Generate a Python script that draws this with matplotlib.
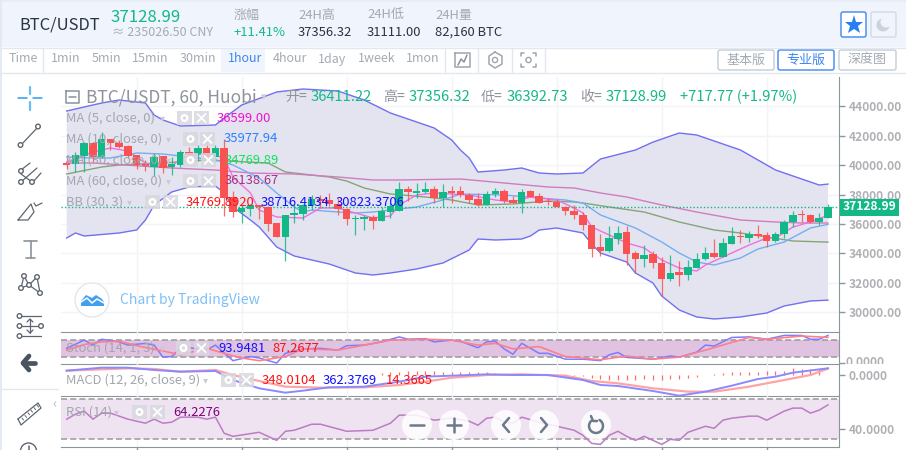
import numpy as np
import matplotlib
matplotlib.use('Agg')
import matplotlib.pyplot as plt
from matplotlib.patches import Rectangle, Circle, FancyBboxPatch
from matplotlib.transforms import Bbox

plt.rcParams['font.family'] = ['Noto Sans CJK SC', 'DejaVu Sans']

# candles: open, high, low, close
opens = [40170,40080,40620,41510,40560,41780,41510,41300,40690,40080,39880,40620,39880,40010,40900,40760,41170,40560,41170,37840,
         36820,37020,37290,37160,36070,35120,36610,36680,37290,37700,37630,37360,37020,36340,36340,36480,36200,36820,36880,38380,
         38110,38180,38380,37770,38240,38240,37970,37700,37290,38040,38240,37630,37430,38240,37900,37560,37500,37160,36880,36610,
         35930,34440,34160,34980,35460,34030,33620,33960,33350,32260,32740,32530,33010,33620,34030,33760,34640,35180,35050,35320,
         35250,34840,35320,36140,36680,36610,36140,36411]
highs = [40490,40900,41580,41510,42260,41780,41710,41370,40690,40350,40830,40620,40560,41030,41240,41370,41580,41370,41780,38240,
         37290,37360,37290,37220,36070,36610,37360,37360,37970,37970,38110,37770,37090,36610,36610,36610,37160,37430,38860,38580,
         38790,38860,38580,38720,38580,38580,38110,38110,38240,38450,38380,37900,38380,38310,38110,37770,37700,37220,37290,36820,
         35930,35320,35860,35860,35860,34160,34570,34160,33760,33890,33480,33550,34030,34440,34980,35050,35800,35590,35520,35930,
         35460,35460,36270,36880,36950,36680,36750,37356]
lows = [39740,39540,39540,40220,40490,41030,41170,40490,39740,39600,39260,39470,39330,39880,40490,40280,40280,40220,36540,36480,
        36070,36540,36340,35520,35120,33480,36070,36270,36950,37090,37220,36610,35930,35250,35590,35660,36200,36410,36880,37560,
        37770,38110,37430,37160,37430,37840,37430,37220,37290,37840,37430,37430,36750,37840,37430,37290,37160,36610,36340,35590,
        33760,33820,34100,34640,33210,32670,33080,33010,31110,32120,31780,32190,33010,33550,33690,33760,34640,34710,34780,35050,
        34440,34780,35050,35800,36140,36070,35930,36393]
closes = [40030,40690,41510,40560,41780,41510,41240,40620,40010,39940,40560,39810,40080,40900,40690,41170,40560,41170,37770,36820,
          37090,37290,37160,36000,35120,36610,36750,37290,37700,37560,37360,37020,36340,36410,36480,36200,36880,37220,38380,38180,
          38240,38380,37770,38180,38110,37970,37630,37290,38040,38240,37560,37430,38180,37840,37430,37500,37160,36880,36610,35930,
          34300,34160,35050,35390,33960,33620,33890,33350,32260,32670,32530,33080,33620,34030,33760,34710,35180,35120,35320,35180,
          34840,35320,36140,36610,36610,36140,36410,37129]

# bollinger bands
bb_up_x = [0,2,4,6,9,10,11,13,17,18,20,24,27,31,34,37,42,44,45,46,47,50,52,54,56,59,61,65,67,70,72,77,81,85,86,87]
bb_up = [43684,43956,44228,44432,44228,43412,43072,42664,42732,43208,44092,44976,45180,45044,44432,43548,42528,41712,41032,40488,
         39536,39672,39808,39468,39400,39468,40420,41032,41570,42188,42052,41032,39672,38856,38650,38716]
bb_lo_x = [0,1,2,6,8,9,10,12,14,17,18,19,21,22,24,26,30,33,35,37,40,43,46,47,49,52,53,54,56,59,60,61,64,65,67,68,70,72,74,77,80,82,85,87]
bb_lo = [35048,35388,35184,35388,35592,36272,37292,38176,38516,38584,38108,37156,36272,35796,34436,33824,33280,32668,32532,32668,
         32940,33348,34232,34980,34912,34980,35184,35592,35728,35388,34640,34028,33416,32668,31988,31104,30152,29676,29540,29676,
         29948,30424,30764,30823]

# moving averages
ma60_x = [0,4,6,11,16,23,25,30,32,34,37,41,44,47,51,55,58,59,62,66,70,74,77,80,83,87]
ma60 = [39400,39876,40012,40148,40352,40148,39536,39196,38924,38448,38040,37836,37632,37292,37360,37564,37496,37428,37156,36816,
        36136,35592,35388,35116,34844,34770]
ma30_x = [0,3,12,17,21,26,31,35,38,45,50,55,58,61,64,68,72,77,81,84,87]
ma30 = [40148,40148,39808,39672,39468,39400,39196,38992,38992,39060,38788,38516,38448,38108,37836,37292,36816,36272,36136,36068,36068]
ma10_x = [0,3,5,8,11,14,17,19,22,24,26,27,28,31,33,35,38,40,43,45,50,54,57,59,61,65,68,70,72,74,77,79,82,85,87]
ma10 = [40556,40488,40488,40828,40760,40556,40352,40012,39128,38108,37156,36816,36952,36816,36748,36816,37020,37156,37632,38040,
        37972,37768,37632,37428,36612,35728,34776,34028,33416,33212,33688,34300,34776,35728,35978]
ma5_x = [0,3,5,7,9,12,13,16,18,19,21,22,24,27,29,31,33,35,37,38,40,42,46,49,51,53,56,58,59,60,62,64,66,68,70,72,73,75,78,80,81,83,85,87]
ma5 = [40216,40896,41168,40964,40148,39876,40488,40828,40488,39196,38108,36952,36476,36408,37088,37088,36748,36408,36544,37292,
       37972,38108,37972,37632,37496,37836,37632,37088,36748,35796,35252,34708,34368,33552,33008,32804,33212,33756,34572,35048,
       35048,35796,36136,36599]

# stochastic
stoch_k_x = [0,2,3,4,6,7,9,10,11,12,13,14,16,17,19,21,22,24,25,27,29,31,32,34,36,38,39,41,42,44,45,47,48,49,50,51,52,54,55,57,59,61,62,63,64,67,69,70,72,73,74,76,78,80,82,84,85,86,87]
stoch_k = [50,78,61,81,72,61,67,61,20,22,50,52,44,61,8,22,17,0,33,48,50,44,59,61,72,89,81,83,72,78,74,52,72,74,48,30,67,33,33,13,13,8,28,36,19,13,24,20,37,61,58,87,89,81,94,94,81,81,93.9]
stoch_d_x = [0,2,4,6,8,11,13,16,18,20,22,25,27,31,34,37,41,44,47,49,51,54,57,61,64,67,70,73,76,78,80,84,87]
stoch_d = [44,63,72,74,59,41,28,50,33,17,8,22,48,44,61,78,81,78,61,67,48,56,22,11,24,13,20,44,70,87,81,92,87.3]

# macd
macd_x = [0,4,7,10,13,17,19,22,25,27,30,34,38,41,44,48,51,55,59,61,63,67,70,73,76,79,81,83,87]
macd = [234,396,396,270,180,216,-270,-720,-954,-846,-666,-630,-360,-90,-36,36,0,0,-270,-540,-594,-864,-1116,-900,-576,-216,-90,126,362]
signal_x = [0,4,7,10,13,17,19,22,25,29,34,38,41,44,48,52,57,60,63,67,71,74,78,82,85,87]
signal = [234,306,360,324,180,270,0,-324,-630,-684,-666,-540,-360,-144,0,36,-36,-324,-450,-720,-900,-900,-630,-270,0,348]
hist_x = list(range(36, 88))
hist = [120,150,180,200,220,220,200,180,180,180,160,160,150,100,60,30,60,30,10,5,5,-40,-60,-80,-140,-200,-280,-280,-260,-250,-240,-260,
        -260,-240,-220,-170,-100,0,30,100,140,170,180,180,190,230,220,360,340,300,320,14]

# rsi
rsi_x = [0,1,2,3,4,5,7,9,10,11,12,13,15,16,17,18,19,22,24,25,26,28,29,32,35,37,38,40,42,44,46,47,48,49,50,51,52,54,57,58,59,60,61,62,63,64,65,66,67,68,69,70,71,73,74,75,76,78,79,80,82,83,84,85,86,87]
rsi = [50,55,58,50,56,56,50,46,50,46,47,52,52,50,52,36,33,37,29,38,39,45,45,38,39,46,54,54,49,51,48,44,51,52,47,46,52,47,41,39,34,26,25,34,38,33,29,33,29,25,30,29,37,43,41,49,51,53,53,49,58,61,61,56,59,64.2]

price_ticks = [30000,32000,34000,36000,38000,40000,42000,44000]
time_ticks = [8,20,32,44,56,68,80]
periods = ['1min','5min','15min','30min','1hour','4hour','1day','1week','1mon']
period_x = [51,92,132,180,228,273,318,358,406]

UP = '#12b886'
DOWN = '#fa5252'
GREY = '#a4aab4'
LABEL = '#a2a7ae'
AXIS = '#8c949c'
PX = 0.72

fig = plt.figure(figsize=(9.06, 4.5), dpi=100, facecolor='white')

def pane(top, bottom, ylim, z=2):
    ax = fig.add_axes([61/906, 1-bottom/450, 778/906, (bottom-top)/450], zorder=z)
    ax.set_facecolor('none')
    ax.set_xlim(-0.65, 88.26)
    ax.set_ylim(*ylim)
    for s in ['left', 'top']:
        ax.spines[s].set_visible(False)
    for s in ['right', 'bottom']:
        ax.spines[s].set_color(AXIS)
    ax.yaxis.tick_right()
    ax.tick_params(axis='y', colors='#aeb0b4', labelsize=12*PX, length=4, width=1, color=AXIS, pad=3)
    ax.tick_params(axis='x', length=0, labelbottom=False)
    ax.set_xticks(time_ticks)
    ax.grid(axis='x', color='#f3f4f7', lw=1)
    ax.set_axisbelow(True)
    return ax

# main pane
ax = pane(77, 332, (28656, 45996))
ax.set_yticks(price_ticks)
ax.set_yticklabels(['%.2f' % p for p in price_ticks], fontweight='bold')
ax.grid(axis='y', color='#f3f4f7', lw=1)
ax.fill(np.r_[bb_up_x, bb_lo_x[::-1]], np.r_[bb_up, bb_lo[::-1]], color='#e4e4f0', lw=0, zorder=1)
ax.plot(bb_up_x, bb_up, color='#7070f0', lw=1, zorder=2)
ax.plot(bb_lo_x, bb_lo, color='#7070f0', lw=1, zorder=2)
ax.plot(ma60_x, ma60, color='#86a478', lw=1, zorder=2)
ax.plot(ma30_x, ma30, color='#d07cc0', lw=1, zorder=2)
ax.plot(ma10_x, ma10, color='#74aef2', lw=1, zorder=2)
ax.plot(ma5_x, ma5, color='#f070e0', lw=1, zorder=3)
idx = np.arange(len(opens))
cols = [UP if c >= o else DOWN for o, c in zip(opens, closes)]
ax.vlines(idx, lows, highs, colors=cols, lw=0.9, alpha=0.85, zorder=4)
ax.bar(idx, np.abs(np.array(closes)-np.array(opens)), bottom=np.minimum(opens, closes), width=0.86, color=cols, lw=0, zorder=5)
ax.axhline(closes[-1], color=UP, ls=(0, (1, 1.5)), lw=1, zorder=3)

# stoch pane
ax2 = pane(332, 364, (-3.4, 105.7))
ax2.axhspan(20, 80, color='#e0c3e0', lw=0, zorder=1)
ax2.axhline(80, color='#9a9a9a', ls=(0, (4, 2)), lw=1.1, zorder=2)
ax2.axhline(20, color='#9a9a9a', ls=(0, (4, 2)), lw=1.1, zorder=2)
ax2.plot(stoch_k_x, stoch_k, color='#7c7cff', lw=1.1, zorder=3)
ax2.plot(stoch_d_x, stoch_d, color='#ff7f8c', lw=1.2, zorder=3)
ax2.set_yticks([0])
ax2.set_yticklabels([''])

# macd pane
ax3 = pane(364, 396, (-1134, 594))
ax3.vlines(hist_x, 0, hist, color='#ff6a6a', lw=0.9, zorder=2)
ax3.plot(signal_x, signal, color='#ffa4a4', lw=1.6, zorder=3)
ax3.plot(macd_x, macd, color='#8a8aff', lw=1.4, zorder=3)
ax3.set_yticks([0])
ax3.set_yticklabels(['0.0000'], fontweight='bold')

# rsi pane
ax4 = pane(396, 447, (22.4, 73))
ax4.axhspan(30, 70, color='#efe3f2', lw=0, zorder=1)
ax4.axhline(70, color='#9a9a9a', ls=(0, (4, 2)), lw=1.1, zorder=2)
ax4.axhline(30, color='#9a9a9a', ls=(0, (4, 2)), lw=1.1, zorder=2)
ax4.plot(rsi_x, rsi, color='#bc7cc4', lw=1.1, zorder=3)
ax4.set_yticks([40])
ax4.set_yticklabels(['40.0000'], fontweight='bold')
ax4.tick_params(axis='x', length=3, color=AXIS, width=1)

# page furniture, drawn in pixels on top of the panes
ui = fig.add_axes([0, 0, 1, 1], zorder=10)
ui.set_xlim(0, 906)
ui.set_ylim(450, 0)
ui.axis('off')
ui.patch.set_alpha(0)

def T(x, y, s, color=GREY, px=13, ha='left', weight='normal', z=6):
    return ui.text(x, y, s, color=color, fontsize=px*PX, ha=ha, va='center', fontweight=weight, zorder=z)

def R(x0, y0, x1, y1, fc, ec='none', lw=0, z=1, alpha=1):
    ui.add_patch(Rectangle((x0, y0), x1-x0, y1-y0, fc=fc, ec=ec, lw=lw, zorder=z, alpha=alpha))

def L(xs, ys, color='#5d6670', lw=1.1, z=4):
    ui.plot(xs, ys, color=color, lw=lw, zorder=z, solid_capstyle='round')

def O(x, y, r=2.3, color='#5d6670', z=5):
    ui.add_patch(Circle((x, y), r, fc='white', ec=color, lw=1, zorder=z))

R(0, 0, 906, 2, '#e8edf5')
R(0, 0, 2, 450, '#e4eaf4')
R(2, 2, 906, 47, '#f0f4fc')
R(2, 47, 906, 72, 'white')
L([2, 906], [47.5, 47.5], '#e3e8f0', 1)
L([2, 906], [72.5, 72.5], '#e3e8f0', 1)
R(221, 48, 265, 72, '#f0f4fc')
for vx in [43, 445, 478, 512, 545]:
    L([vx, vx], [48, 72], '#e3e8f0', 1)

T(19, 25, 'BTC/USDT', '#2a3340', 16.5)
T(111, 17, '37128.99', '#14b98a', 16.8)
T(112, 32, '≈ 235026.50 CNY', GREY, 12.5)
T(234, 15, '涨幅', GREY, 13)
T(234, 32, '+11.41%', '#14b98a', 13)
T(298, 15, '24H高', GREY, 13)
T(298, 32, '37356.32', '#2a3340', 13)
T(367, 15, '24H低', GREY, 13)
T(367, 32, '31111.00', '#2a3340', 13)
T(435, 15, '24H量', GREY, 13)
T(435, 32, '82,160 BTC', '#2a3340', 13)
T(9, 59, 'Time', GREY, 12.5)
for p, px_ in zip(periods, period_x):
    T(px_, 59, p, '#3f86f0' if p == '1hour' else GREY, 12.5)

def btn(x0, y0, x1, y1, ec, r=2):
    ui.add_patch(FancyBboxPatch((x0+r, y0+r), x1-x0-2*r, y1-y0-2*r, boxstyle='round,pad=%d' % r, fc='white', ec=ec, lw=1, zorder=3))

btn(718, 50, 774, 70, '#c4ccd6')
btn(778, 50, 834, 70, '#3f86f0')
btn(839, 50, 896, 70, '#c4ccd6')
T(746, 60, '基本版', GREY, 13, 'center')
T(806, 60, '专业版', '#3f86f0', 13, 'center')
T(867, 60, '深度图', GREY, 13, 'center')
btn(841, 12, 866, 37, '#3f86f0')
ui.plot([854], [25], marker='*', ms=14, color='#2a7ff0', mew=0, zorder=5)
ui.add_patch(FancyBboxPatch((873, 14), 21, 21, boxstyle='round,pad=2', fc='#f0f4fc', ec='#d4dae2', lw=1, zorder=3))
ui.add_patch(Circle((883, 25), 6.5, fc='#ccd2dc', ec='none', zorder=4))
ui.add_patch(Circle((886, 22), 5.5, fc='#f0f4fc', ec='none', zorder=5))

# toolbar icons
L([455, 470, 470, 455, 455], [53, 53, 67, 67, 53], '#a0a6ae')
L([458, 461, 464, 467], [65, 59, 62, 55], '#8a929c', 1.1)
L([495, 502, 502, 495, 489, 489, 495], [52, 56, 64, 68, 64, 56, 52], '#a0a6ae')
O(495, 60, 2.6, '#a0a6ae')
for cx, cy, sx, sy in [(521, 53, 1, 1), (536, 53, -1, 1), (521, 67, 1, -1), (536, 67, -1, -1)]:
    L([cx+3*sx, cx, cx], [cy, cy, cy+3*sy], '#a0a6ae')
O(528.5, 60, 2.6, '#a0a6ae')

# left drawing tools
L([30, 30], [87, 94], '#66bdf5', 1.6)
L([30, 30], [102, 110], '#66bdf5', 1.6)
L([18, 27], [98, 98], '#2a9df4', 1.1)
L([33, 42], [98, 98], '#2a9df4', 1.1)
L([21, 38], [145, 127], lw=0.9)
O(20.5, 145)
O(38, 126.5)
L([21, 30], [170, 163], lw=0.9); L([21, 37], [182, 168], lw=0.9); L([33, 41], [182, 173], lw=0.9); L([21, 32], [174, 182], lw=0.9)
O(21, 171); O(21, 182); O(32, 182)
L([18, 28, 34, 31, 18], [220, 220, 212, 204, 220], lw=0.9)
L([34, 36, 42], [203, 206, 203], lw=0.9)
L([24, 37], [241, 241], '#8a929c', 1.2); L([30.5, 30.5], [241, 258], '#8a929c', 1.2); L([26, 35], [258, 258], '#8a929c', 1.2)
L([21, 24, 29, 37, 40, 29, 21], [288, 276, 285, 277, 293, 285, 288], lw=0.9)
O(21, 288); O(24, 276); O(29, 285); O(37, 277); O(40, 293)
for fy in [316, 326, 336]:
    L([19, 41], [fy, fy], lw=0.9)
    O(19.5, fy)
O(41, 326)
L([30, 30], [319, 333], lw=0.9); L([27, 30, 33], [330, 333, 330], lw=0.9); L([27, 30, 33], [322, 319, 322], lw=0.9)
L([23, 35], [363, 363], '#4a5460', 3.4)
L([29, 23, 29], [356, 363, 370], '#4a5460', 3.4)
L([2, 58], [388.5, 388.5], '#e3e8f0', 1)
L([18, 38, 41, 21, 18], [419, 403, 408, 425, 419], lw=0.9)
for k in range(6):
    L([22+3*k, 23.5+3*k], [418-2.6*k, 420-2.6*k], '#5d6670', 0.7)
T(54, 403, '‹', '#a8c0d8', 14, 'center')
ui.add_patch(Circle((28.5, 451), 8, fc='white', ec='#5d6670', lw=1, zorder=4))
L([28.5, 28.5], [446, 450])

# pane legends
L([66, 79, 79, 66, 66], [91, 91, 103, 103, 91], '#8a929c')
L([69, 76], [97, 97], '#8a929c')
T(86, 97, 'BTC/USDT, 60, Huobi', '#8e949c', 17.4, weight='medium')
T(261, 97, '▾', '#c8ccd2', 11)
T(285, 97, '开=', '#8e949c', 14)
T(311, 97, '36411.22', '#14b98a', 14.7)
T(383, 97, '高=', '#8e949c', 14)
T(409, 97, '37356.32', '#14b98a', 14.7)
T(481, 97, '低=', '#8e949c', 14)
T(507, 97, '36392.73', '#14b98a', 14.7)
T(580, 97, '收=', '#8e949c', 14)
T(606, 97, '37128.99', '#14b98a', 14.7)
T(680, 97, '+717.77 (+1.97%)', '#14b98a', 14.7)

def row(y, label, gear_x, x_x, arrow_x, vals):
    T(66, y, label, LABEL, 13)
    T(arrow_x, y, '▾', '#c8ccd2', 10)
    R(gear_x, y-7, gear_x+15, y+7, '#d8d8de', z=5, alpha=0.85)
    R(x_x, y-7, x_x+15, y+7, '#d8d8de', z=5, alpha=0.85)
    ui.add_patch(Circle((gear_x+7.5, y), 4, fc='white', ec='none', zorder=6))
    ui.add_patch(Circle((gear_x+7.5, y), 1.6, fc='#d8d8de', ec='none', zorder=7))
    L([x_x+3.5, x_x+11.5], [y-4, y+4], 'white', 1.3, 6)
    L([x_x+3.5, x_x+11.5], [y+4, y-4], 'white', 1.3, 6)
    for vx, vs, vc in vals:
        T(vx, y, vs, vc, 13, z=7)

row(118, 'MA (5, close, 0)', 177, 194, 160, [(217, '36599.00', '#f010d0')])
row(139, 'MA (10, close, 0)', 183, 200, 166, [(224, '35977.94', '#2a80ff')])
row(160, 'MA (30, close, 0)', 183, 201, 166, [(225, '34769.89', '#10e060')])
row(181, 'MA (60, close, 0)', 183, 201, 166, [(225, '36138.67', '#a83088')])
row(202, 'BB (30, 3)', 145, 163, 127, [(186, '34769.8920', '#ff1010'), (261, '38716.4134', '#1010ff'), (336, '30823.3706', '#1010ff')])
row(348, 'Stoch (14, 1, 3)', 176, 194, 160, [(218, '93.9481', '#1010ff'), (272, '87.2677', '#ff1010')])
row(380, 'MACD (12, 26, close, 9)', 221, 239, 203, [(262, '348.0104', '#ff1010'), (323, '362.3769', '#1010ff'), (386, '14.3665', '#ff1010')])
row(412, 'RSI (14)', 132, 150, 114, [(173, '64.2276', '#800080')])

# watermark
ui.add_patch(Circle((92, 300), 17, fc='white', ec='#e4e6ea', lw=1, zorder=4))
ui.fill([81, 81, 86, 92, 96, 102, 104, 104], [306, 301, 295, 298, 295, 299, 302, 306], color='#3fa0f0', lw=0, zorder=5)
L([81, 87, 92, 97, 104], [302, 298, 303, 299, 303], 'white', 1.1, 6)
T(120, 300, 'Chart by TradingView', '#7fc0f5', 14, weight='medium')

# last price tag
R(840, 199, 899, 216, UP, z=6)
T(869.5, 207, '37128.99', 'white', 12, 'center', 'bold', z=7)

# stoch axis label, cut off by the macd pane below it
t0 = T(846, 363, '0.0000', '#aeb0b4', 12, weight='bold', z=2)
t0.set_clip_box(Bbox([[840, 450-364], [906, 450-332]]))
t0.set_clip_on(True)

# zoom buttons
for bx in [417, 454, 506, 544, 596]:
    ui.add_patch(Circle((bx, 425), 15, fc='white', ec='none', alpha=0.85, zorder=6))
BC = '#6b7b8c'
L([410, 424], [425, 425], BC, 1.8, 7)
L([447, 461], [425, 425], BC, 1.8, 7)
L([454, 454], [418, 432], BC, 1.8, 7)
L([509, 503, 509], [418, 425, 432], BC, 1.8, 7)
L([541, 547, 541], [418, 425, 432], BC, 1.8, 7)
th = np.radians(np.arange(-60, 235, 15))
L(596+7*np.cos(th), 426+7*np.sin(th), BC, 1.8, 7)
L([591, 593, 597], [416, 421, 421], BC, 1.8, 7)

fig.savefig('out.png', dpi=100)
